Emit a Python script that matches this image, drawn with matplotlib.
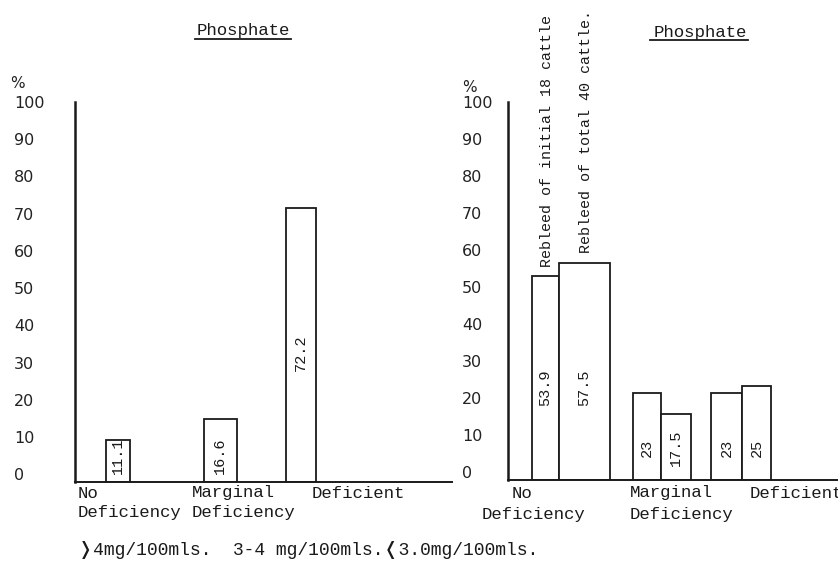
import matplotlib.pyplot as plt
from matplotlib.lines import Line2D

# data
left_values = [11.1, 16.6, 72.2]
left_labels = ["11.1", "16.6", "72.2"]
right_values = [53.9, 57.5, 23, 17.5, 23, 25]
right_labels = ["53.9", "57.5", "23", "17.5", "23", "25"]
categories_line1 = ["No", "Marginal", "Deficient"]
categories_line2 = ["Deficiency", "Deficiency", ""]
y_ticks = [0, 10, 20, 30, 40, 50, 60, 70, 80, 90, 100]
series_notes = ["Rebleed of initial 18 cattle", "Rebleed of total 40 cattle."]
title = "Phosphate"
footnote = "\u276d4mg/100mls.  3-4 mg/100mls.\u276c3.0mg/100mls."

W, H = 838, 575
mono = "Liberation Mono"
ink = "#1a1a1a"

fig = plt.figure(figsize=(W / 100, H / 100), dpi=100)


def fx(px):
    return px / W


def fy(py):
    return 1 - py / H


def make_axes(x0, x1, y_base, y_top, label_pad):
    ax = fig.add_axes([fx(x0), fy(y_base), fx(x1 - x0), (y_base - y_top) / H])
    ax.set_xlim(0, x1 - x0)
    ax.set_ylim(0, 100)
    for s in ["top", "right"]:
        ax.spines[s].set_visible(False)
    ax.spines["left"].set_linewidth(1.8)
    ax.spines["bottom"].set_linewidth(1.4)
    ax.spines["left"].set_color(ink)
    ax.spines["bottom"].set_color(ink)
    ax.set_xticks([])
    # labels sit a little above the true value, as typed on the original
    ax.set_yticks([t * 0.98 + 2 for t in y_ticks], [str(t) for t in y_ticks])
    ax.tick_params(axis="y", length=0, pad=label_pad, labelsize=11.5, colors="#222222")
    for lbl in ax.get_yticklabels():
        lbl.set_horizontalalignment("left")
    ax.patch.set_alpha(0)
    return ax


# left panel
axl = make_axes(75, 452, 482, 102, 44)
left_pos = [43, 145, 226]
left_w = [24, 33, 30]
axl.bar(left_pos, left_values, width=left_w, facecolor="white",
        edgecolor=ink, linewidth=1.3)
for x, v, t in zip(left_pos, left_values, left_labels):
    yc = 34 if v > 30 else 7
    axl.text(x, yc, t, rotation=90, ha="center", va="center",
             fontsize=11, family=mono, color=ink)

# right panel
axr = make_axes(508, 838, 480, 102, 33)
right_pos = [37.5, 76.5, 139, 168, 218.5, 248.5]
right_w = [27, 51, 28, 30, 31, 29]
axr.bar(right_pos, right_values, width=right_w, facecolor="white",
        edgecolor=ink, linewidth=1.3)
for x, v, t in zip(right_pos, right_values, right_labels):
    yc = 24.5 if v > 30 else 8.5
    axr.text(x, yc, t, rotation=90, ha="center", va="center",
             fontsize=11, family=mono, color=ink)
for x, v, note in zip(right_pos[:2], right_values[:2], series_notes):
    axr.text(x + 1, v + 2.5, note, rotation=90, ha="center", va="bottom",
             fontsize=10.8, family=mono, color=ink, clip_on=False)

# titles with underline
for xc, yc, x0, x1, yl in [(243, 30, 195, 291, 39), (700, 32, 650, 748, 40)]:
    fig.text(fx(xc), fy(yc), title, ha="center", va="center",
             fontsize=12.5, family=mono, color=ink)
    fig.add_artist(Line2D([fx(x0), fx(x1)], [fy(yl), fy(yl)],
                          color=ink, linewidth=1.3))

# percent signs
fig.text(fx(10), fy(83), "%", ha="left", va="center", fontsize=11, color="#222222")
fig.text(fx(462), fy(88), "%", ha="left", va="center", fontsize=11, color="#222222")

# category labels under each panel
cat_left_x = [78, 192, 312]
cat_right_x1 = [512, 630, 750]
cat_right_x2 = [482, 630, 750]
for i in range(3):
    fig.text(fx(cat_left_x[i]), fy(493), categories_line1[i], ha="left", va="center",
             fontsize=12.5, family=mono, color=ink)
    fig.text(fx(cat_left_x[i]), fy(512), categories_line2[i], ha="left", va="center",
             fontsize=12.5, family=mono, color=ink)
    fig.text(fx(cat_right_x1[i]), fy(493), categories_line1[i], ha="left", va="center",
             fontsize=12.5, family=mono, color=ink)
    fig.text(fx(cat_right_x2[i]), fy(514), categories_line2[i], ha="left", va="center",
             fontsize=12.5, family=mono, color=ink)

fig.text(fx(78), fy(550), footnote, ha="left", va="center",
         fontsize=13, family=[mono, "DejaVu Sans"], color=ink)

fig.savefig("out.png", dpi=100)
